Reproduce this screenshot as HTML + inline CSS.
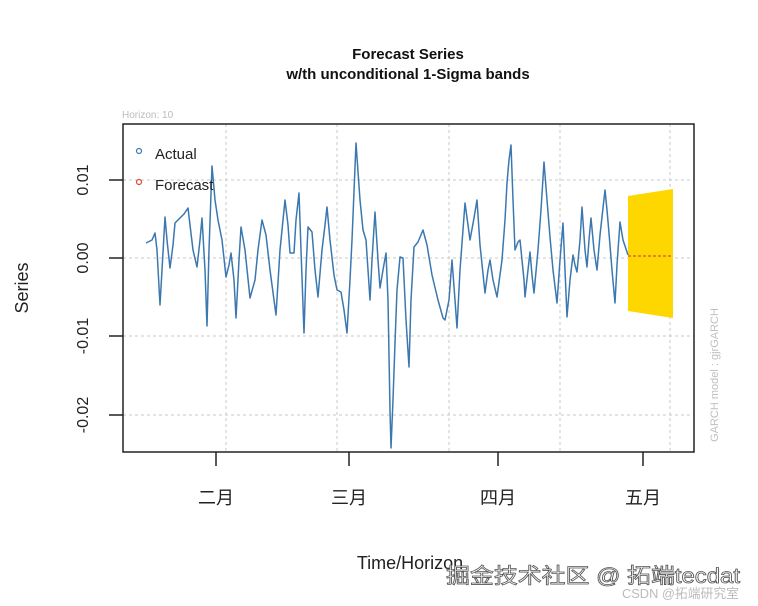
<!DOCTYPE html>
<html><head><meta charset="utf-8"><style>
body{margin:0;background:#fff;}
svg{display:block;font-family:"Liberation Sans","Noto Sans CJK SC",sans-serif;}
</style></head><body>
<svg width="758" height="606" viewBox="0 0 758 606">
<text x="408" y="59" text-anchor="middle" font-size="15" font-weight="bold" fill="#111">Forecast Series</text>
<text x="408" y="79" text-anchor="middle" font-size="15" font-weight="bold" fill="#111">w/th unconditional 1-Sigma bands</text>
<text x="122" y="118" font-size="10" fill="#bbb">Horizon: 10</text>
<g stroke="#c8c8c8" stroke-dasharray="3,3" stroke-width="1">
<line x1="123" x2="694" y1="180" y2="180"/><line x1="123" x2="694" y1="258" y2="258"/>
<line x1="123" x2="694" y1="336" y2="336"/><line x1="123" x2="694" y1="415" y2="415"/>
<line x1="226" x2="226" y1="124" y2="452"/><line x1="337" x2="337" y1="124" y2="452"/>
<line x1="449" x2="449" y1="124" y2="452"/><line x1="560" x2="560" y1="124" y2="452"/>
<line x1="670" x2="670" y1="124" y2="452"/>
</g>
<polygon points="628,196 673,189 673,318 628,311" fill="#ffd700"/>
<polyline fill="none" stroke="#3b78b0" stroke-width="1.5" stroke-linejoin="round" points="146,243 152,240 155,233 157,250 160,305 162,270 165,217 167,240 170,268 173,245 175,223 180,218 184,214 188,208 190,225 193,250 197,267 200,240 202,218 205,270 207,326 209,250 212,166 215,200 218,220 222,240 226,277 229,265 231,253 234,280 236,318 239,260 241,227 245,250 250,298 255,280 258,250 262,220 266,235 270,270 276,315 280,250 285,200 288,225 290,253 294,253 296,220 299,193 301,250 304,333 306,270 308,227 312,232 315,270 318,297 322,250 325,225 327,207 330,240 334,275 337,290 341,292 344,310 347,333 350,280 352,240 356,143 360,200 363,230 366,240 370,300 372,260 375,212 378,260 380,288 383,270 386,253 388,300 390,410 391,448 393,400 395,343 397,290 400,257 403,258 406,320 409,367 411,300 414,247 418,242 423,230 427,245 432,275 438,300 443,318 445,320 449,300 452,260 455,300 457,328 460,270 465,203 468,225 470,240 474,218 477,200 480,245 485,293 488,270 490,260 493,280 497,297 502,260 505,220 507,183 509,160 511,145 513,200 515,250 518,242 520,240 524,280 525,297 528,270 530,252 532,275 534,293 538,250 541,210 544,162 547,200 550,237 553,270 557,303 560,260 563,223 565,270 567,317 570,280 573,255 575,265 577,272 580,240 582,207 585,250 587,267 589,240 591,218 594,250 597,270 600,235 605,190 607,210 609,233 612,270 615,303 617,265 620,222 623,240 628,255"/>
<polyline fill="none" stroke="#e0483c" stroke-width="1.3" stroke-dasharray="3,2" points="628,256 673,256"/>
<rect x="123" y="124" width="571" height="328" fill="none" stroke="#222" stroke-width="1.5"/>
<circle cx="139" cy="151" r="2.5" fill="none" stroke="#3b78b0" stroke-width="1.2"/>
<text x="155" y="159" font-size="15" fill="#222">Actual</text>
<circle cx="139" cy="182" r="2.5" fill="none" stroke="#e0483c" stroke-width="1.2"/>
<text x="155" y="190" font-size="15" fill="#222">Forecast</text>
<g stroke="#222" stroke-width="1.5">
<line x1="109" x2="123" y1="180" y2="180"/><line x1="109" x2="123" y1="258" y2="258"/>
<line x1="109" x2="123" y1="336" y2="336"/><line x1="109" x2="123" y1="415" y2="415"/>
<line x1="216" x2="216" y1="452" y2="466"/><line x1="349" x2="349" y1="452" y2="466"/>
<line x1="498" x2="498" y1="452" y2="466"/><line x1="643" x2="643" y1="452" y2="466"/>
</g>
<g font-size="16" fill="#222" text-anchor="middle">
<text transform="translate(88,180) rotate(-90)">0.01</text>
<text transform="translate(88,258) rotate(-90)">0.00</text>
<text transform="translate(88,336) rotate(-90)">-0.01</text>
<text transform="translate(88,415) rotate(-90)">-0.02</text>
<text transform="translate(28,288) rotate(-90)" font-size="18">Series</text>
</g>
<g font-size="18" fill="#222" text-anchor="middle">
<text x="216" y="504">二月</text><text x="349" y="504">三月</text>
<text x="498" y="504">四月</text><text x="643" y="504">五月</text>
<text x="410" y="569">Time/Horizon</text>
</g>
<text transform="translate(718,375) rotate(-90)" font-size="11" fill="#c0c0c0" text-anchor="middle">GARCH model : gjrGARCH</text>
<text x="446" y="583" font-size="21" fill="#fff" stroke="#555" stroke-width="0.8" textLength="294" lengthAdjust="spacingAndGlyphs">掘金技术社区 @ 拓端tecdat</text>
<text x="622" y="598" font-size="13" fill="#bbb" textLength="117" lengthAdjust="spacingAndGlyphs">CSDN @拓端研究室</text>
</svg>
</body></html>
